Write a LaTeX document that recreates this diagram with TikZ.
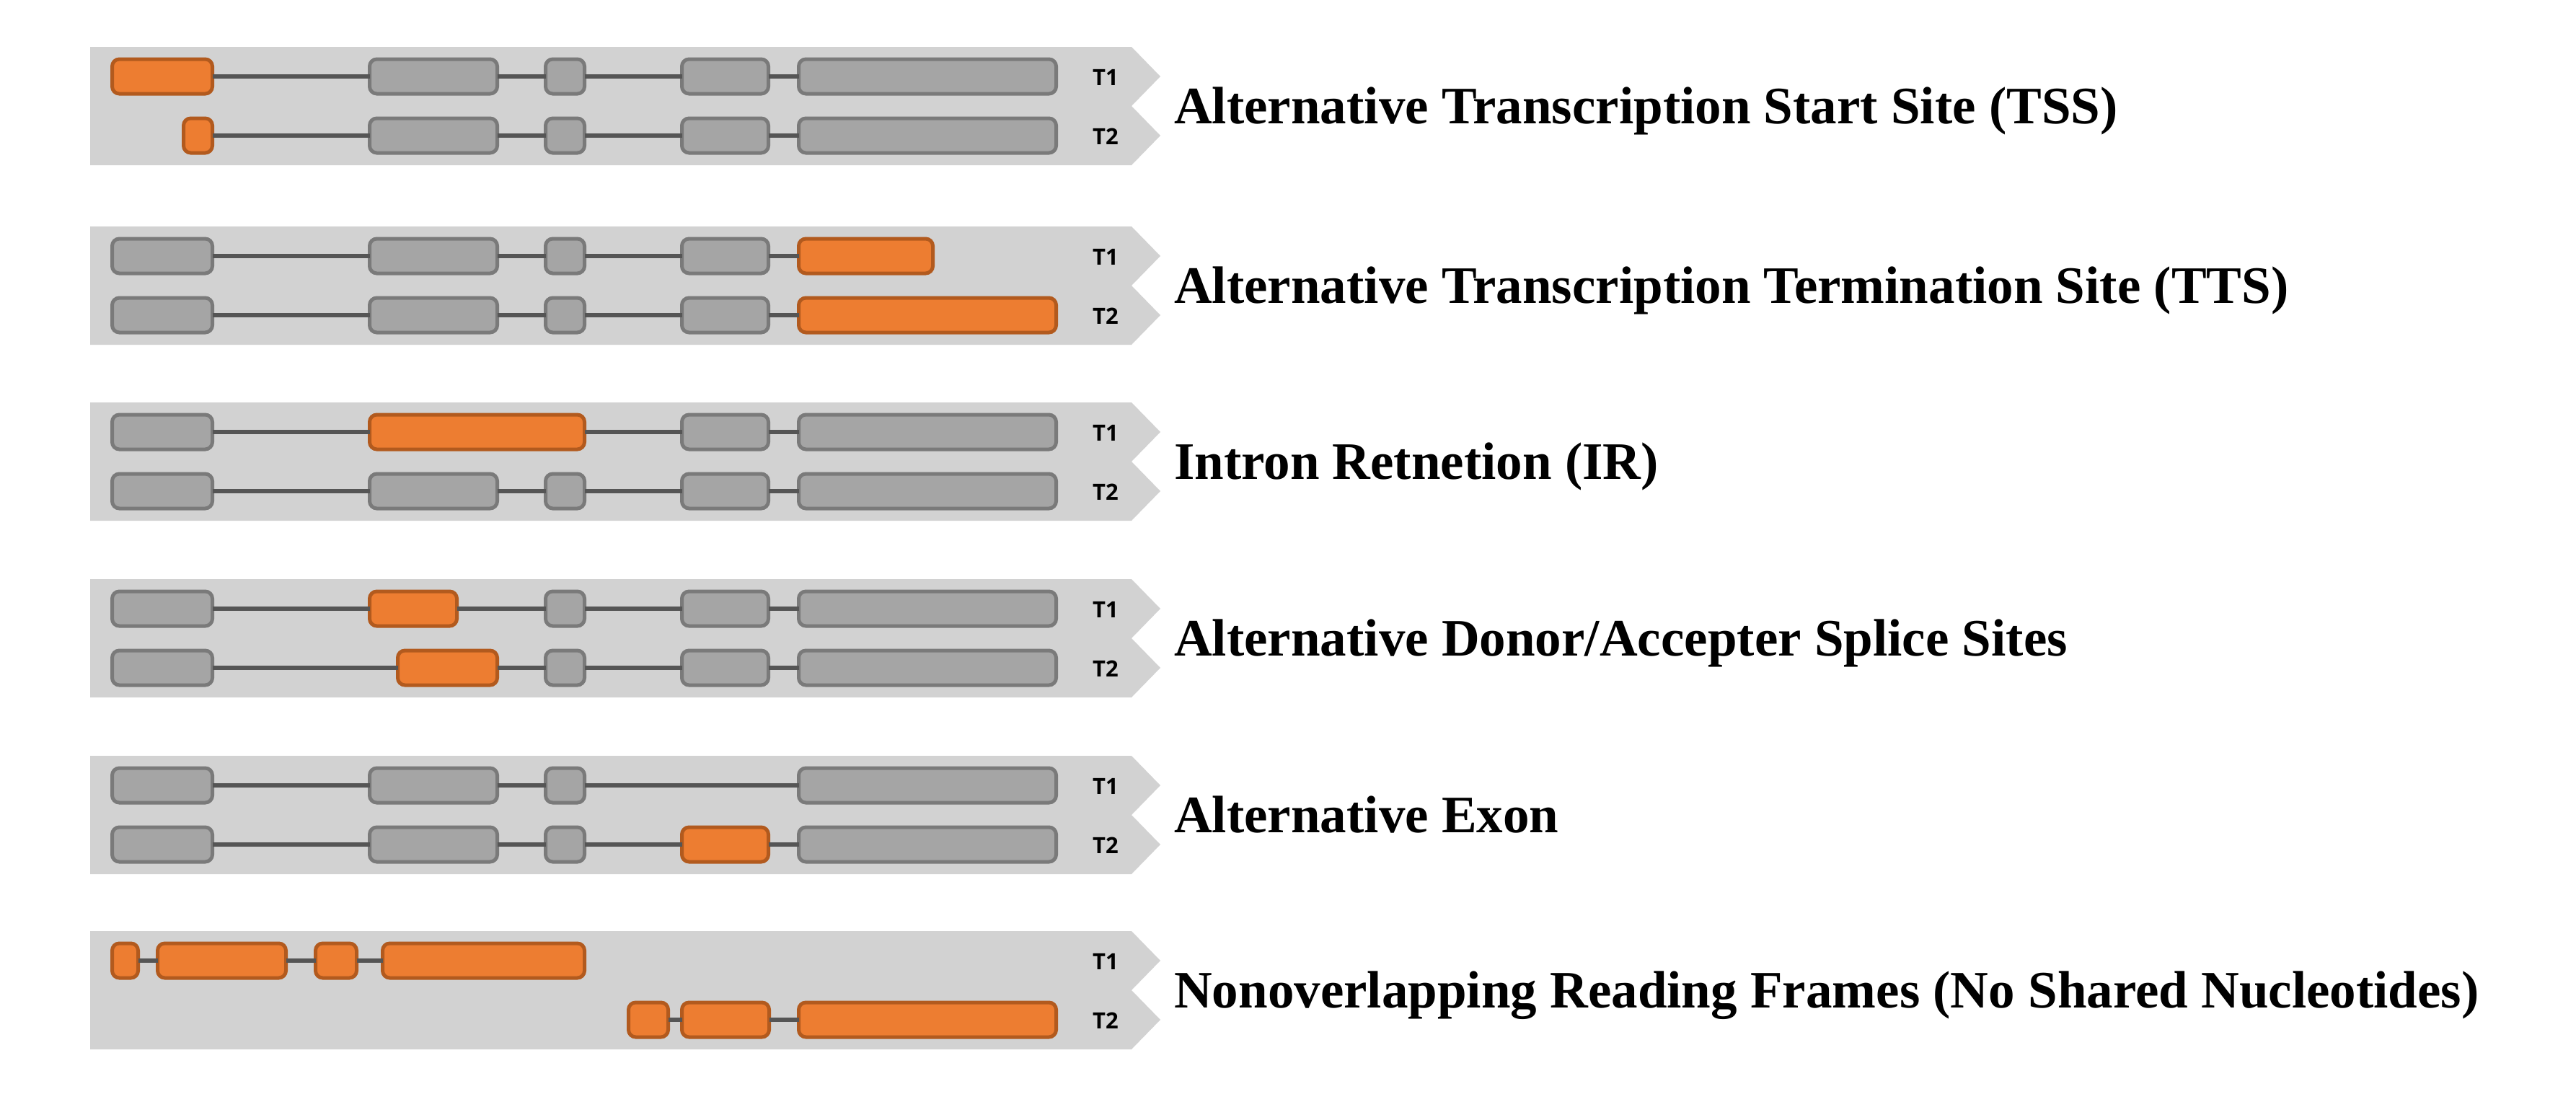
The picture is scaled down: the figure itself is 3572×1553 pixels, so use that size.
\documentclass[tikz,border=0pt]{standalone}
\usepackage{fontspec}
\setmainfont{Liberation Serif}
\newfontfamily\tlabfamily{Open Sans}
\definecolor{bandgray}{HTML}{D2D2D2}
\definecolor{exfill}{HTML}{A5A5A5}
\definecolor{exborder}{HTML}{7A7A7A}
\definecolor{intcol}{HTML}{555555}
\definecolor{orfill}{HTML}{ED7D31}
\definecolor{orborder}{HTML}{B25A1E}
\tikzset{
  bandshape/.style={fill=bandgray, draw=none},
  gex/.style={draw=exborder, fill=exfill, line width=5pt, rounded corners=10pt,
    minimum height=48pt, inner sep=0pt, outer sep=0pt},
  oex/.style={gex, draw=orborder, fill=orfill},
  intron/.style={draw=intcol, line width=5.5pt},
  tlab/.style={font=\tlabfamily\bfseries\fontsize{31}{34}\selectfont, inner sep=0pt},
  titletext/.style={font=\bfseries\fontsize{73}{80}\selectfont, anchor=base west, inner sep=0pt}
}
% exon: style, name, x1, x2, y
\newcommand\exon[5]{%
  \pgfmathsetmacro\exw{#4-#3-5}%
  \node[#1, minimum width=\exw pt] (#2) at ({(#3+#4)/2},#5) {};}
% band: name, top
\newcommand\bandpath[2]{%
  \path[bandshape] (125,#2) -- (1569,#2) -- (1609,{#2+41}) -- (1569,{#2+82})
    -- (1609,{#2+123}) -- (1569,{#2+164}) -- (125,{#2+164}) -- cycle;
  \node[tlab] (#1t1) at (1533,{#2+42}) {T1};
  \node[tlab] (#1t2) at (1533,{#2+124}) {T2};}
\begin{document}
\begin{tikzpicture}[x=1pt,y=-1pt]
\useasboundingbox (0,0) rectangle (3572,1553);
\fill[white] (0,0) rectangle (3572,1553);

% ---------- Band 1: TSS ----------
\bandpath{a}{65}
\exon{oex}{a1e1}{153}{297}{106}
\exon{gex}{a1e2}{510}{692}{106}
\exon{gex}{a1e3}{754}{813}{106}
\exon{gex}{a1e4}{943}{1068}{106}
\exon{gex}{a1e5}{1105}{1467}{106}
\exon{oex}{a2e1}{252}{297}{188}
\exon{gex}{a2e2}{510}{692}{188}
\exon{gex}{a2e3}{754}{813}{188}
\exon{gex}{a2e4}{943}{1068}{188}
\exon{gex}{a2e5}{1105}{1467}{188}
\draw[intron] (a1e1) -- (a1e2) (a1e2) -- (a1e3) (a1e3) -- (a1e4) (a1e4) -- (a1e5);
\draw[intron] (a2e1) -- (a2e2) (a2e2) -- (a2e3) (a2e3) -- (a2e4) (a2e4) -- (a2e5);
\node[titletext] (atitle) at (1628,171) {Alternative Transcription Start Site (TSS)};

% ---------- Band 2: TTS ----------
\bandpath{b}{314}
\exon{gex}{b1e1}{153}{297}{355}
\exon{gex}{b1e2}{510}{692}{355}
\exon{gex}{b1e3}{754}{813}{355}
\exon{gex}{b1e4}{943}{1068}{355}
\exon{oex}{b1e5}{1105}{1296}{355}
\exon{gex}{b2e1}{153}{297}{437}
\exon{gex}{b2e2}{510}{692}{437}
\exon{gex}{b2e3}{754}{813}{437}
\exon{gex}{b2e4}{943}{1068}{437}
\exon{oex}{b2e5}{1105}{1467}{437}
\draw[intron] (b1e1) -- (b1e2) (b1e2) -- (b1e3) (b1e3) -- (b1e4) (b1e4) -- (b1e5);
\draw[intron] (b2e1) -- (b2e2) (b2e2) -- (b2e3) (b2e3) -- (b2e4) (b2e4) -- (b2e5);
\node[titletext] (btitle) at (1628,420) {Alternative Transcription Termination Site (TTS)};

% ---------- Band 3: IR ----------
\bandpath{c}{558}
\exon{gex}{c1e1}{153}{297}{599}
\exon{oex}{c1e2}{510}{813}{599}
\exon{gex}{c1e4}{943}{1068}{599}
\exon{gex}{c1e5}{1105}{1467}{599}
\exon{gex}{c2e1}{153}{297}{681}
\exon{gex}{c2e2}{510}{692}{681}
\exon{gex}{c2e3}{754}{813}{681}
\exon{gex}{c2e4}{943}{1068}{681}
\exon{gex}{c2e5}{1105}{1467}{681}
\draw[intron] (c1e1) -- (c1e2) (c1e2) -- (c1e4) (c1e4) -- (c1e5);
\draw[intron] (c2e1) -- (c2e2) (c2e2) -- (c2e3) (c2e3) -- (c2e4) (c2e4) -- (c2e5);
\node[titletext] (ctitle) at (1628,664) {Intron Retnetion (IR)};

% ---------- Band 4: Donor/Acceptor ----------
\bandpath{d}{803}
\exon{gex}{d1e1}{153}{297}{844}
\exon{oex}{d1e2}{510}{636}{844}
\exon{gex}{d1e3}{754}{813}{844}
\exon{gex}{d1e4}{943}{1068}{844}
\exon{gex}{d1e5}{1105}{1467}{844}
\exon{gex}{d2e1}{153}{297}{926}
\exon{oex}{d2e2}{549}{692}{926}
\exon{gex}{d2e3}{754}{813}{926}
\exon{gex}{d2e4}{943}{1068}{926}
\exon{gex}{d2e5}{1105}{1467}{926}
\draw[intron] (d1e1) -- (d1e2) (d1e2) -- (d1e3) (d1e3) -- (d1e4) (d1e4) -- (d1e5);
\draw[intron] (d2e1) -- (d2e2) (d2e2) -- (d2e3) (d2e3) -- (d2e4) (d2e4) -- (d2e5);
\node[titletext] (dtitle) at (1628,909) {Alternative Donor/Accepter Splice Sites};

% ---------- Band 5: Alternative Exon ----------
\bandpath{e}{1048}
\exon{gex}{e1e1}{153}{297}{1089}
\exon{gex}{e1e2}{510}{692}{1089}
\exon{gex}{e1e3}{754}{813}{1089}
\exon{gex}{e1e5}{1105}{1467}{1089}
\exon{gex}{e2e1}{153}{297}{1171}
\exon{gex}{e2e2}{510}{692}{1171}
\exon{gex}{e2e3}{754}{813}{1171}
\exon{oex}{e2e4}{943}{1068}{1171}
\exon{gex}{e2e5}{1105}{1467}{1171}
\draw[intron] (e1e1) -- (e1e2) (e1e2) -- (e1e3) (e1e3) -- (e1e5);
\draw[intron] (e2e1) -- (e2e2) (e2e2) -- (e2e3) (e2e3) -- (e2e4) (e2e4) -- (e2e5);
\node[titletext] (etitle) at (1628,1154) {Alternative Exon};

% ---------- Band 6: Nonoverlapping ----------
\bandpath{f}{1291}
\exon{oex}{f1e1}{153}{194}{1332}
\exon{oex}{f1e2}{216}{399}{1332}
\exon{oex}{f1e3}{435}{497}{1332}
\exon{oex}{f1e4}{528}{813}{1332}
\exon{oex}{f2e1}{869}{929}{1414}
\exon{oex}{f2e2}{943}{1069}{1414}
\exon{oex}{f2e3}{1105}{1467}{1414}
\draw[intron] (f1e1) -- (f1e2) (f1e2) -- (f1e3) (f1e3) -- (f1e4);
\draw[intron] (f2e1) -- (f2e2) (f2e2) -- (f2e3);
\node[titletext] (ftitle) at (1628,1397) {Nonoverlapping Reading Frames (No Shared Nucleotides)};
\end{tikzpicture}
\end{document}
